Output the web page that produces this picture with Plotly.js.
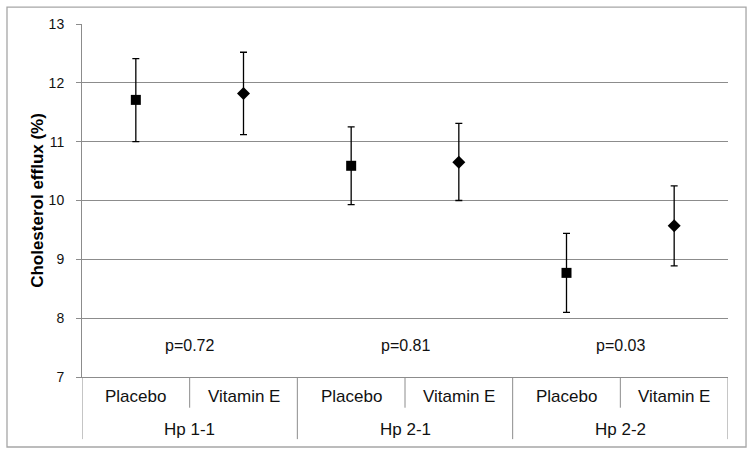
<!DOCTYPE html>
<html>
<head>
<meta charset="utf-8">
<script src="https://cdn.plot.ly/plotly-3.0.1.min.js"></script>
<style>html,body{margin:0;padding:0;background:#fff;}#chart{width:754px;height:455px;}</style>
</head>
<body>
<div id="chart"></div>
<script>
var treatments = ["Placebo", "Vitamin E", "Placebo", "Vitamin E", "Placebo", "Vitamin E"];
var groups = ["Hp 1-1", "Hp 2-1", "Hp 2-2"];
var pValues = ["p=0.72", "p=0.81", "p=0.03"];
var pLabelLevel = 7.53;
var placeboMean = [11.71, 10.59, 8.77];
var placeboUpper = [12.41, 11.25, 9.44];
var placeboLower = [11.0, 9.93, 8.10];
var vitEMean = [11.82, 10.65, 9.57];
var vitEUpper = [12.52, 11.31, 10.25];
var vitELower = [11.12, 10.0, 8.89];

var placeboX = [0.5, 2.5, 4.5];
var vitEX = [1.5, 3.5, 5.5];

function diff(a, b) { return a.map(function (v, i) { return +(v - b[i]).toFixed(3); }); }

var traces = [
  {
    type: "scatter", mode: "markers", x: placeboX, y: placeboMean,
    marker: { symbol: "square", size: 10, color: "#000" },
    error_y: { type: "data", symmetric: false, array: diff(placeboUpper, placeboMean),
      arrayminus: diff(placeboMean, placeboLower), color: "#000", thickness: 1.3, width: 3.5 },
    hoverinfo: "y", showlegend: false
  },
  {
    type: "scatter", mode: "markers", x: vitEX, y: vitEMean,
    marker: { symbol: "diamond", size: 10, color: "#000" },
    error_y: { type: "data", symmetric: false, array: diff(vitEUpper, vitEMean),
      arrayminus: diff(vitEMean, vitELower), color: "#000", thickness: 1.3, width: 3.5 },
    hoverinfo: "y", showlegend: false
  }
];

var lineColor = "#8c8c8c";
var annotations = [];
var shapes = [];
var fam = "Liberation Sans, Arial, sans-serif";
var catFont = { family: fam, size: 17, color: "#111" };
var pFont = { family: fam, size: 16, color: "#111" };

treatments.forEach(function (t, i) {
  annotations.push({ x: i + 0.5, y: -0.056, xref: "x", yref: "paper", text: t, showarrow: false,
    font: catFont, xanchor: "center", yanchor: "middle" });
});
groups.forEach(function (g, i) {
  annotations.push({ x: 2 * i + 1, y: -0.148, xref: "x", yref: "paper", text: g, showarrow: false,
    font: catFont, xanchor: "center", yanchor: "middle" });
  annotations.push({ x: 2 * i + 1, y: pLabelLevel, xref: "x", yref: "y", text: pValues[i], showarrow: false,
    font: pFont, xanchor: "center", yanchor: "middle" });
});
for (var k = 0; k <= 6; k++) {
  var longLine = (k % 2 === 0);
  shapes.push({ type: "line", xref: "x", yref: "paper", x0: k, x1: k, y0: 0, y1: longLine ? -0.176 : -0.087,
    line: { color: lineColor, width: 1 } });
}
shapes.push({ type: "rect", xref: "paper", yref: "paper", x0: -0.1161, x1: 1.0279, y0: -0.1983, y1: 1.048,
  line: { color: "#a6a6a6", width: 1.3 }, fillcolor: "rgba(0,0,0,0)" });

var layout = {
  width: 754, height: 455,
  margin: { l: 82, r: 26, t: 24, b: 78 },
  paper_bgcolor: "#fff", plot_bgcolor: "#fff",
  font: catFont,
  xaxis: { range: [0, 6], showticklabels: false, ticks: "", showgrid: false, zeroline: false,
    showline: true, linecolor: lineColor, linewidth: 1, fixedrange: true },
  yaxis: { range: [7, 13], dtick: 1, tick0: 7, showgrid: true, gridcolor: lineColor, gridwidth: 1,
    zeroline: false, showline: true, linecolor: lineColor, linewidth: 1,
    ticks: "outside", ticklen: 5, tickcolor: lineColor, ticklabelstandoff: 9,
    tickfont: { family: fam, size: 14, color: "#111" },
    title: { text: "Cholesterol efflux (%)", standoff: 0,
      font: { family: fam, size: 17, color: "#000", weight: "bold" } },
    fixedrange: true },
  annotations: annotations,
  shapes: shapes
};

Plotly.newPlot("chart", traces, layout, { displayModeBar: false, staticPlot: true });
</script>
</body>
</html>
